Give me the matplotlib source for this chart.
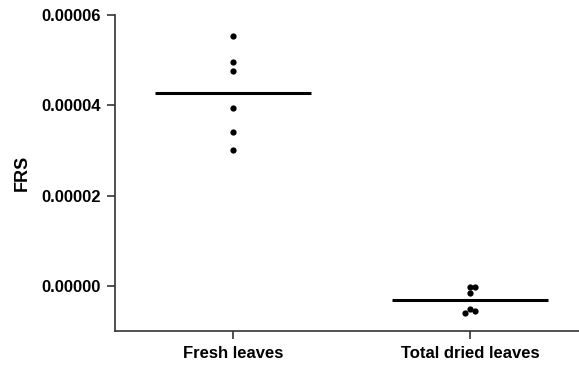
import numpy as np
import matplotlib
matplotlib.use("Agg")
import matplotlib.pyplot as plt

plt.rcParams['font.family'] = ['Liberation Sans', 'DejaVu Sans']
plt.rcParams['font.weight'] = 'bold'

categories = ["Fresh leaves", "Total dried leaves"]
fresh_values = [5.54e-5, 4.95e-5, 4.77e-5, 3.93e-5, 3.40e-5, 3.00e-5]
dried_values = [-0.02e-5, -0.02e-5, -0.15e-5, -0.52e-5, -0.60e-5, -0.55e-5]
ytick_values = [0.0, 2e-5, 4e-5, 6e-5]
ytick_labels = ["0.00000", "0.00002", "0.00004", "0.00006"]


def swarm_offsets(vals, y_per_unit, dot, step):
    """Spread points horizontally when they would overlap vertically."""
    order = np.argsort(vals)[::-1]
    placed = []
    offs = np.zeros(len(vals))
    for i in order:
        y = vals[i] * y_per_unit
        cands = [0.0]
        k = 1
        while len(cands) < 12:
            cands += [k * step, -k * step]
            k += 1
        for c in cands:
            ok = True
            for (px, py) in placed:
                if np.hypot((c - px) / step * dot, y - py) < dot * 0.95:
                    ok = False
                    break
            if ok:
                offs[i] = c
                placed.append((c, y))
                break
    return offs


fig = plt.figure(figsize=(5.79, 3.65), dpi=100)
ax = fig.add_axes([115 / 579, 34 / 365, 1 - 115 / 579, 316 / 365])

ax.set_ylim(-1e-5, 6e-5)
ax.set_xlim(-0.498, 1.46)

# pixels per data unit along y
ypx = 316 / 7e-5
for i, vals in enumerate([fresh_values, dried_values]):
    vals = np.array(vals)
    offs = swarm_offsets(vals, ypx, 5.0, 5.0 / 237)
    offs -= (offs.max() + offs.min()) / 2 if len(set(offs)) > 1 else 0
    ax.plot(i + offs, vals, 'o', color='black', markersize=4.5,
            markeredgewidth=0, zorder=3)
    m = vals.mean()
    ax.plot([i - 0.33, i + 0.33], [m, m], color='black', lw=2.2,
            solid_capstyle='butt', zorder=2)

ax.set_xticks([0, 1])
ax.set_xticklabels(categories, fontsize=12, fontweight='bold')
ax.set_yticks(ytick_values)
ax.set_yticklabels(ytick_labels, fontsize=12, fontweight='bold')
ax.set_ylabel("FRS", fontsize=13, fontweight='bold', labelpad=8)

for s in ['top', 'right']:
    ax.spines[s].set_visible(False)
for s in ['left', 'bottom']:
    ax.spines[s].set_color('#333333')
    ax.spines[s].set_linewidth(1.2)
ax.spines['left'].set_bounds(-1e-5, 6e-5)
ax.tick_params(axis='both', length=6, width=1.2, color='#333333', pad=4)
ax.tick_params(axis='x', pad=5)

fig.savefig("out.png", dpi=100)
